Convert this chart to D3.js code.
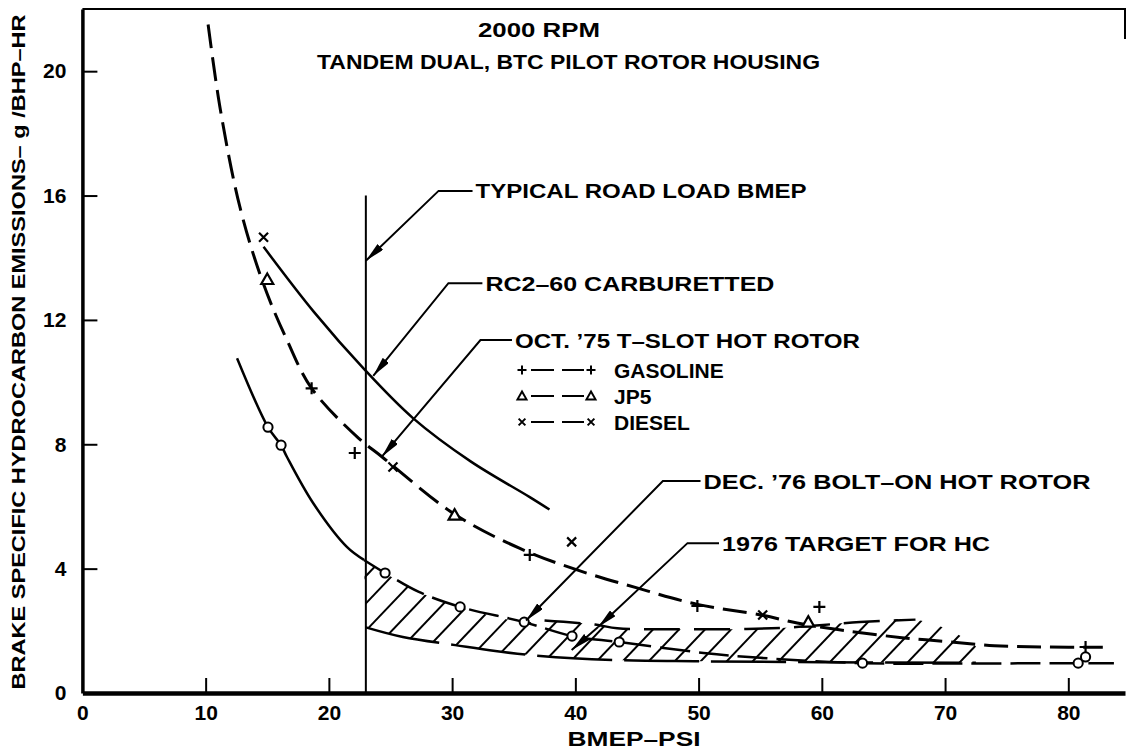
<!DOCTYPE html>
<html>
<head>
<meta charset="utf-8">
<script src="https://cdn.jsdelivr.net/npm/d3@7"></script>
<style>
  html, body { margin: 0; padding: 0; background: #fff; }
  svg { display: block; }
  text { font-family: "Liberation Sans", Arial, sans-serif; font-weight: bold; fill: #000; }
</style>
</head>
<body>
<svg id="chart" width="1127" height="753"></svg>
<script>
(function() {
'use strict';

// --- values (BMEP psi, g/BHP-HR) ---
var xTicks = [0, 10, 20, 30, 40, 50, 60, 70, 80];
var yTicks = [0, 4, 8, 12, 16, 20];
var roadLoadBmep = 23;
var roadLoadTop = 16.0;

// RC2-60 carburetted (solid, no symbols)
var rc2Curve = [[14.7, 14.35], [18.8, 12.25], [22.9, 10.4], [26.8, 8.85], [31.5, 7.45], [36.3, 6.3], [37.9, 5.9]];

// Oct '75 T-slot hot rotor faired curve + fuel points
var oct75Curve = [[10.2, 21.5], [11.2, 18.75], [12.8, 15.6], [14.65, 13.2], [16.6, 11.35], [18.6, 9.8],
  [22.4, 8.2], [24.3, 7.6], [30.2, 5.75], [35.5, 4.65], [40.2, 3.95], [45, 3.38], [49.9, 2.85],
  [55.2, 2.5], [58, 2.25], [62, 2.0], [66.5, 1.78], [70, 1.66], [74, 1.52], [78, 1.48], [82.8, 1.47]];
var gasolinePts = [[18.6, 9.8], [22.1, 7.72], [36.3, 4.44], [49.9, 2.8], [59.8, 2.77], [81.4, 1.48]];
var jp5Pts = [[15.0, 13.3], [30.2, 5.72], [58.9, 2.28]];
var dieselPts = [[14.7, 14.66], [25.2, 7.27], [39.7, 4.86], [55.2, 2.51]];

// Dec '76 bolt-on hot rotor
var dec76Curve = [[12.55, 10.77], [15.06, 8.55], [16.12, 7.97], [16.6, 7.59], [18.72, 6.11], [21.48, 4.69],
  [22.85, 4.28], [24.56, 3.86], [27.3, 3.25], [30.65, 2.77], [35.85, 2.28], [39.73, 1.83], [43.56, 1.64],
  [50.4, 1.29], [55, 1.13], [63.3, 0.96], [72, 0.95], [80.8, 0.96], [83.7, 0.96]];
var dec76Pts = [[15.06, 8.55], [16.12, 7.97], [24.56, 3.86], [30.65, 2.77], [35.85, 2.28], [39.73, 1.83],
  [43.56, 1.64], [63.3, 0.96], [80.8, 0.96], [81.4, 1.16]];

// 1976 target band for HC
var targetUpper = [[37.5, 2.33], [41.6, 2.2], [43.4, 2.08], [48, 2.05], [53.9, 2.06], [57, 2.1],
  [60.1, 2.19], [63.1, 2.28], [67.6, 2.36]];
var targetTail = [[70.5, 2.0], [72.5, 1.5]];
var targetLower = [[23, 2.11], [26, 1.8], [30.25, 1.54], [33.5, 1.35], [37.15, 1.19], [43.2, 1.06],
  [50, 1.02], [60, 0.99], [72.5, 0.97]];

var legendItems = [
  { label: 'GASOLINE', sym: 'plus' },
  { label: 'JP5', sym: 'tri' },
  { label: 'DIESEL', sym: 'cross' }
];

// callouts: text start, elbow, arrow tips (data units)
var callouts = [
  { text: 'TYPICAL ROAD LOAD BMEP', at: [31.9, 16.15], elbow: [28.9, 16.15], tips: [[23, 13.9]], len: 331 },
  { text: 'RC2\u201360 CARBURETTED', at: [32.7, 13.18], elbow: [29.7, 13.18], tips: [[23.6, 10.2]], len: 289 },
  { text: 'OCT. \u201975 T\u2013SLOT HOT ROTOR', at: [35.1, 11.35], elbow: [32.3, 11.35], tips: [[24.3, 7.6]], len: 345 },
  { text: 'DEC. \u201976 BOLT\u2013ON HOT ROTOR', at: [50.4, 6.82], elbow: [47.1, 6.82], tips: [[36.0, 2.33]], len: 387 },
  { text: '1976 TARGET FOR HC', at: [51.9, 4.82], elbow: [49.1, 4.82], tips: [[41.85, 2.12], [39.7, 1.38]], len: 268 }
];

var svg = d3.select('#chart');
var x = d3.scaleLinear().domain([0, 84.6]).range([82.4, 1125]);
var y = d3.scaleLinear().domain([0, 22]).range([693, 9]);

var line = d3.line()
  .x(function (d) { return x(d[0]); })
  .y(function (d) { return y(d[1]); })
  .curve(d3.curveCatmullRom.alpha(0.5));

var defs = svg.append('defs');
defs.append('marker')
  .attr('id', 'arrow')
  .attr('markerUnits', 'userSpaceOnUse')
  .attr('viewBox', '0 0 20 8')
  .attr('markerWidth', 20).attr('markerHeight', 8)
  .attr('refX', 20).attr('refY', 4)
  .attr('orient', 'auto')
  .append('path').attr('d', 'M0,0L20,4L0,8Z').attr('fill', '#000');

// hatched target band
var bandTop = dec76Curve.filter(function (d) { return d[0] >= 22.85 && d[0] <= 35.9; })
  .concat(targetUpper, targetTail);
var bandPath = line(bandTop) + 'L' + line(targetLower.slice().reverse()).slice(1) + 'Z';
defs.append('clipPath').attr('id', 'band').append('path').attr('d', bandPath);

svg.append('g').attr('clip-path', 'url(#band)')
  .selectAll('line')
  .data(d3.range(-30, 50))
  .enter().append('line')
  .attr('x1', function (k) { return x(roadLoadBmep) - 40 + k * 26; })
  .attr('y1', 700)
  .attr('x2', function (k) { return x(roadLoadBmep) - 40 + k * 26 + 700 / 1.05; })
  .attr('y2', 0)
  .attr('stroke', '#000').attr('stroke-width', 2);

// axes
var yAxis = d3.axisLeft(y).tickValues(yTicks).tickSize(-15).tickSizeOuter(0).tickPadding(16);
var xAxis = d3.axisBottom(x).tickValues(xTicks).tickSize(-15).tickSizeOuter(0).tickPadding(12);

var gy = svg.append('g').attr('transform', 'translate(' + x(0) + ',0)').call(yAxis);
var gx = svg.append('g').attr('transform', 'translate(0,' + y(0) + ')').call(xAxis);
gy.select('.domain').attr('stroke-width', 3.5);
gx.select('.domain').attr('stroke-width', 4.5);
[gx, gy].forEach(function (g) {
  g.selectAll('.tick line').attr('stroke-width', 2);
  g.selectAll('.tick text').attr('font-size', 21).attr('font-family', '"Liberation Sans", Arial, sans-serif')
    .attr('font-weight', 'bold');
});
gy.selectAll('.tick line').filter(function (d) { return d === 0; }).remove();
gx.selectAll('.tick line').filter(function (d) { return d === 0; }).remove();

// frame top edge
svg.append('path')
  .attr('d', 'M' + x(0) + ',' + y(22) + 'H' + x(84.6) + 'V' + (y(22) + 30))
  .attr('fill', 'none').attr('stroke', '#000').attr('stroke-width', 2);

// typical road load BMEP
svg.append('line')
  .attr('x1', x(roadLoadBmep)).attr('x2', x(roadLoadBmep))
  .attr('y1', y(0)).attr('y2', y(roadLoadTop))
  .attr('stroke', '#000').attr('stroke-width', 2);

// curves
svg.append('path').attr('d', line(rc2Curve))
  .attr('fill', 'none').attr('stroke', '#000').attr('stroke-width', 2.5);

svg.append('path').attr('d', line(oct75Curve))
  .attr('fill', 'none').attr('stroke', '#000').attr('stroke-width', 3)
  .attr('stroke-dasharray', '24,9');

svg.append('path').attr('d', line(dec76Curve.filter(function (d) { return d[0] <= 22.9; })))
  .attr('fill', 'none').attr('stroke', '#000').attr('stroke-width', 2.5);
svg.append('path').attr('d', line(dec76Curve.filter(function (d) { return d[0] >= 22.8; })))
  .attr('fill', 'none').attr('stroke', '#000').attr('stroke-width', 2.5)
  .attr('stroke-dasharray', '30,9');

svg.append('path').attr('d', line(targetLower))
  .attr('fill', 'none').attr('stroke', '#000').attr('stroke-width', 2.5)
  .attr('stroke-dasharray', '75,12');
svg.append('path').attr('d', line(targetUpper))
  .attr('fill', 'none').attr('stroke', '#000').attr('stroke-width', 2.5)
  .attr('stroke-dasharray', '36,14');

// symbols
function symbolPath(kind, px, py, s) {
  if (kind === 'plus') {
    return 'M' + (px - s) + ',' + py + 'H' + (px + s) + 'M' + px + ',' + (py - s) + 'V' + (py + s);
  }
  if (kind === 'cross') {
    var c = s * 0.75;
    return 'M' + (px - c) + ',' + (py - c) + 'L' + (px + c) + ',' + (py + c) +
      'M' + (px + c) + ',' + (py - c) + 'L' + (px - c) + ',' + (py + c);
  }
  // triangle
  return 'M' + px + ',' + (py - s) + 'L' + (px + s) + ',' + (py + s * 0.75) + 'L' + (px - s) + ',' + (py + s * 0.75) + 'Z';
}

function drawPoints(data, kind, s) {
  svg.append('g').selectAll('path').data(data).enter().append('path')
    .attr('d', function (d) { return symbolPath(kind, x(d[0]), y(d[1]), s); })
    .attr('fill', '#fff').attr('stroke', '#000').attr('stroke-width', 2.2);
}
drawPoints(gasolinePts, 'plus', 6);
drawPoints(jp5Pts, 'tri', 6);
drawPoints(dieselPts, 'cross', 6);

svg.append('g').selectAll('circle').data(dec76Pts).enter().append('circle')
  .attr('cx', function (d) { return x(d[0]); })
  .attr('cy', function (d) { return y(d[1]); })
  .attr('r', 4.6)
  .attr('fill', '#fff').attr('stroke', '#000').attr('stroke-width', 2);

// callouts
callouts.forEach(function (c) {
  var ex = x(c.elbow[0]), ey = y(c.elbow[1]);
  svg.append('path')
    .attr('d', 'M' + (x(c.at[0]) - 3) + ',' + ey + 'H' + ex + 'L' + x(c.tips[0][0]) + ',' + y(c.tips[0][1]))
    .attr('fill', 'none').attr('stroke', '#000').attr('stroke-width', 2)
    .attr('marker-end', 'url(#arrow)');
  for (var i = 1; i < c.tips.length; i++) {
    svg.append('path')
      .attr('d', 'M' + x(c.tips[i - 1][0]) + ',' + y(c.tips[i - 1][1]) + 'L' + x(c.tips[i][0]) + ',' + y(c.tips[i][1]))
      .attr('fill', 'none').attr('stroke', '#000').attr('stroke-width', 2)
      .attr('marker-end', 'url(#arrow)');
  }
  svg.append('text')
    .attr('x', x(c.at[0])).attr('y', y(c.at[1]))
    .attr('dy', '0.36em')
    .attr('font-size', 21)
    .attr('textLength', c.len).attr('lengthAdjust', 'spacingAndGlyphs')
    .text(c.text);
});

// legend under the Oct '75 callout
var legend = svg.append('g');
legendItems.forEach(function (item, i) {
  var ly = 370 + i * 26;
  legend.append('path').attr('d', symbolPath(item.sym, 522, ly, 4.5))
    .attr('fill', 'none').attr('stroke', '#000').attr('stroke-width', 2);
  legend.append('path').attr('d', 'M531,' + ly + 'H554M562,' + ly + 'H584')
    .attr('stroke', '#000').attr('stroke-width', 2);
  legend.append('path').attr('d', symbolPath(item.sym, 591, ly, 4.5))
    .attr('fill', 'none').attr('stroke', '#000').attr('stroke-width', 2);
  legend.append('text').attr('x', 614).attr('y', ly).attr('dy', '0.36em')
    .attr('font-size', 21).text(item.label);
});

// titles
svg.append('text').attr('x', 478).attr('y', 29).attr('dy', '0.36em').attr('font-size', 21)
  .attr('textLength', 122).attr('lengthAdjust', 'spacingAndGlyphs').text('2000 RPM');
svg.append('text').attr('x', 317).attr('y', 61).attr('dy', '0.36em').attr('font-size', 21)
  .attr('textLength', 503).attr('lengthAdjust', 'spacingAndGlyphs').text('TANDEM DUAL, BTC PILOT ROTOR HOUSING');

svg.append('text').attr('x', 634).attr('y', 738).attr('dy', '0.36em').attr('font-size', 21)
  .attr('text-anchor', 'middle')
  .attr('textLength', 133).attr('lengthAdjust', 'spacingAndGlyphs').text('BMEP\u2013PSI');

svg.append('text')
  .attr('transform', 'translate(18,352) rotate(-90)')
  .attr('dy', '0.36em').attr('font-size', 19)
  .attr('text-anchor', 'middle')
  .attr('textLength', 675).attr('lengthAdjust', 'spacingAndGlyphs')
  .text('BRAKE SPECIFIC HYDROCARBON EMISSIONS\u2013 g /BHP\u2013HR');

})();
</script>
</body>
</html>
